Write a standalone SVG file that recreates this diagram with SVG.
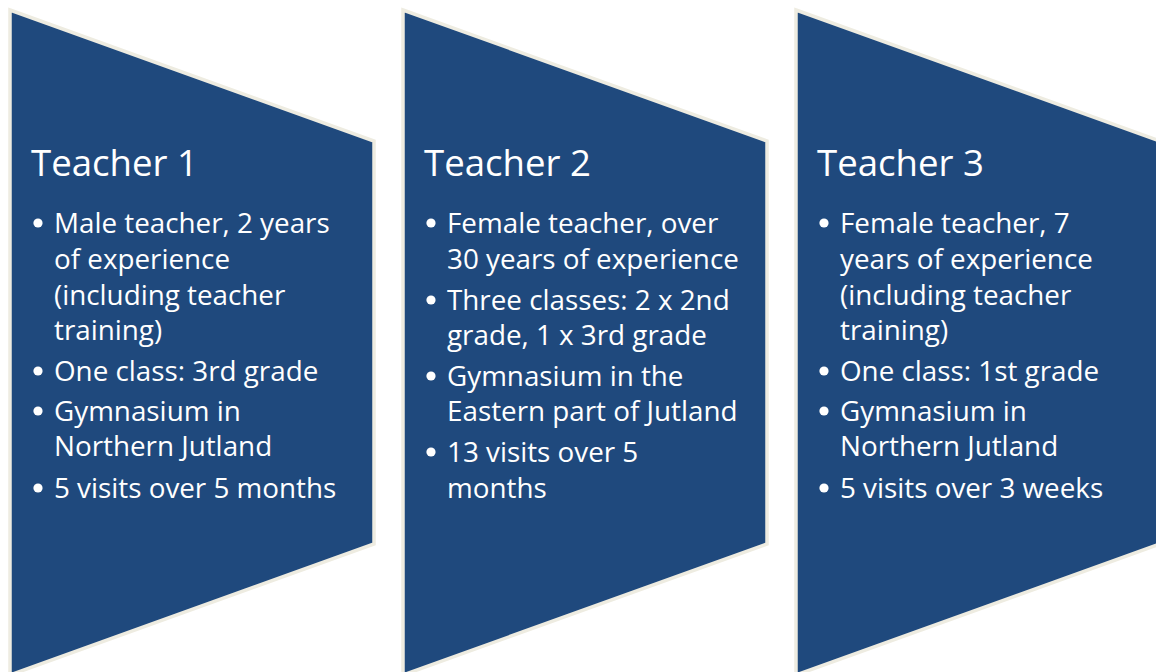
<svg xmlns="http://www.w3.org/2000/svg" width="1156" height="672" viewBox="0 0 1156 672">
<style>
.shape{fill:#1F497D;stroke:#EEECE1;stroke-width:3.5;stroke-linejoin:miter}
.title{font-family:"Open Sans","Liberation Sans",sans-serif;font-size:36.6px;fill:#FFFFFF}
.body{font-family:"Open Sans","Liberation Sans",sans-serif;font-size:27.8px;fill:#FFFFFF}
.dot{fill:#FFFFFF}
</style>
<rect width="1156" height="672" fill="#FFFFFF"/>
<g id="teacher1">
<polygon class="shape" points="10,10 374,141 374,544 10,675"/>
<text class="title" x="31" y="176">Teacher 1</text>
<circle class="dot" cx="38" cy="223" r="4.6"/>
<circle class="dot" cx="38" cy="371" r="4.6"/>
<circle class="dot" cx="38" cy="411" r="4.6"/>
<circle class="dot" cx="38" cy="488" r="4.6"/>
<text class="body">
<tspan x="54" y="233">Male teacher, 2 years</tspan>
<tspan x="54" y="269">of experience</tspan>
<tspan x="54" y="305">(including teacher</tspan>
<tspan x="54" y="340">training)</tspan>
<tspan x="54" y="381">One class: 3rd grade</tspan>
<tspan x="54" y="421">Gymnasium in</tspan>
<tspan x="54" y="456">Northern Jutland</tspan>
<tspan x="54" y="498">5 visits over 5 months</tspan>
</text>
</g>
<g id="teacher2">
<polygon class="shape" points="403,10 767,141 767,544 403,675"/>
<text class="title" x="424" y="176">Teacher 2</text>
<circle class="dot" cx="431" cy="223" r="4.6"/>
<circle class="dot" cx="431" cy="300" r="4.6"/>
<circle class="dot" cx="431" cy="376" r="4.6"/>
<circle class="dot" cx="431" cy="452" r="4.6"/>
<text class="body">
<tspan x="447" y="233">Female teacher, over</tspan>
<tspan x="447" y="269">30 years of experience</tspan>
<tspan x="447" y="310">Three classes: 2 x 2nd</tspan>
<tspan x="447" y="345">grade, 1 x 3rd grade</tspan>
<tspan x="447" y="386">Gymnasium in the</tspan>
<tspan x="447" y="421">Eastern part of Jutland</tspan>
<tspan x="447" y="462">13 visits over 5</tspan>
<tspan x="447" y="498">months</tspan>
</text>
</g>
<g id="teacher3">
<polygon class="shape" points="796,10 1160,141 1160,544 796,675"/>
<text class="title" x="817" y="176">Teacher 3</text>
<circle class="dot" cx="824" cy="223" r="4.6"/>
<circle class="dot" cx="824" cy="371" r="4.6"/>
<circle class="dot" cx="824" cy="411" r="4.6"/>
<circle class="dot" cx="824" cy="488" r="4.6"/>
<text class="body">
<tspan x="840" y="233">Female teacher, 7</tspan>
<tspan x="840" y="269">years of experience</tspan>
<tspan x="840" y="305">(including teacher</tspan>
<tspan x="840" y="340">training)</tspan>
<tspan x="840" y="381">One class: 1st grade</tspan>
<tspan x="840" y="421">Gymnasium in</tspan>
<tspan x="840" y="456">Northern Jutland</tspan>
<tspan x="840" y="498">5 visits over 3 weeks</tspan>
</text>
</g>
<g id="connectors"/>
</svg>
